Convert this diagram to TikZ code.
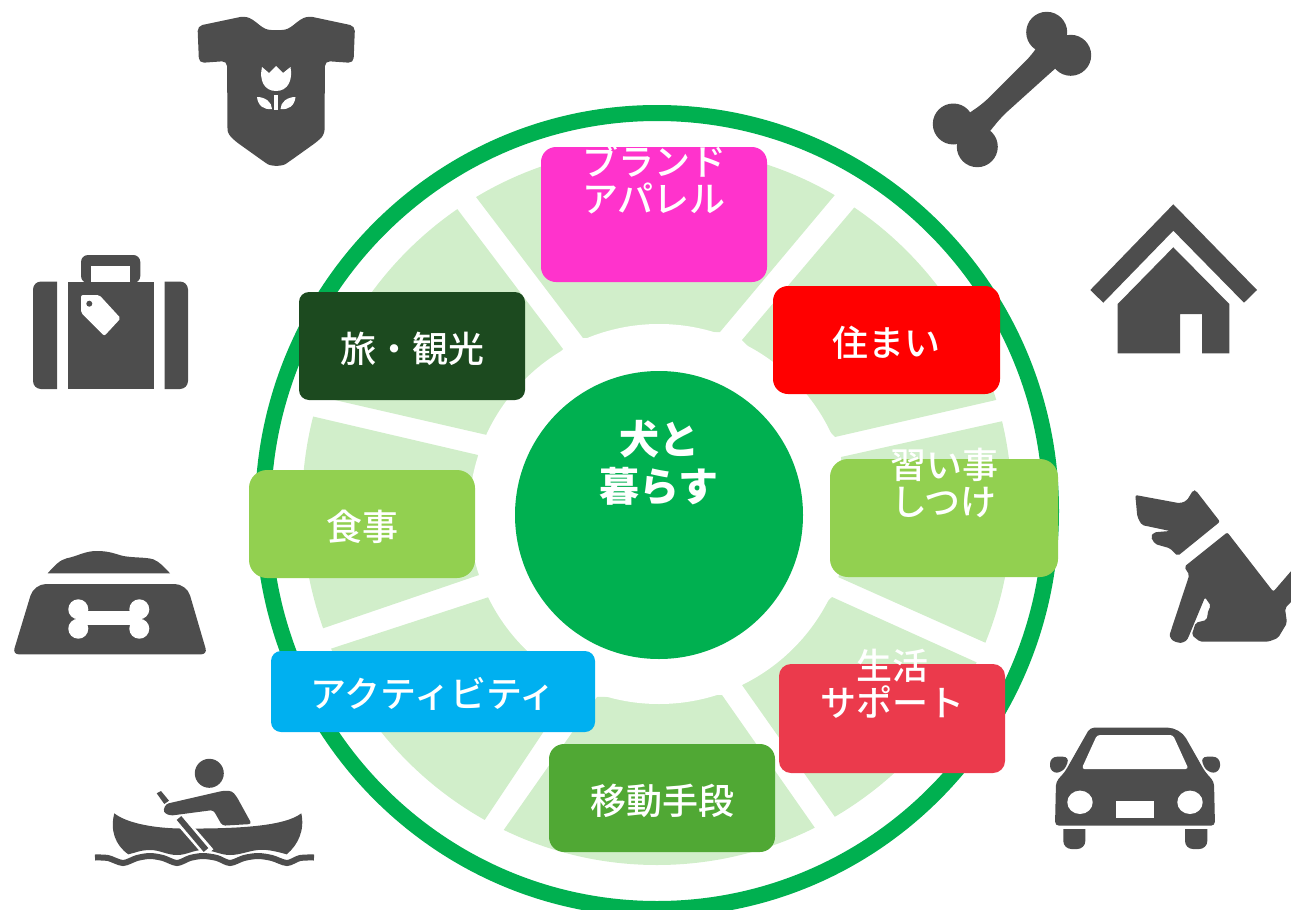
\documentclass[tikz,border=0pt]{standalone}
\usepackage{fontspec}
\usetikzlibrary{calc}
\setmainfont{Noto Sans CJK JP}
\newfontfamily\labelfont{Noto Sans CJK JP Medium}
\definecolor{ringgreen}{HTML}{00B050}
\definecolor{seggreen}{HTML}{D1EECA}
\definecolor{icongray}{HTML}{4D4D4D}
\definecolor{limegreen}{HTML}{92D050}
\begin{document}
\begin{tikzpicture} [x=1pt,y=-1pt,
 icon/.style={fill=icongray},
 hole/.style={fill=white},
 catbox/.style={rounded corners=#1,minimum width=226,minimum height=108,inner sep=0,align=center,text=white,text height=35,text depth=3,font=\labelfont\fontsize{36}{37}\selectfont}]
\useasboundingbox (0,0) rectangle (1291,910);
\draw[ringgreen, line width=16] (657,511) circle [x radius=394,y radius=398];
\begin{scope}
 \clip (657,506) circle [x radius=355,y radius=359];
 \foreach \ax/\ay/\bx/\by/\cx/\cy/\dx/\dy in {583/338/476/197/834/196/720/332,
   742/340/853/209/996/400/835/437, 841/457/1003/421/986/643/838/577,
   832/597/978/663/835/817/742/685, 722/695/815/828/503/831/597/697,
   574/686/484/821/333/648/489/597, 479/575/321/629/311/416/478/455,
   487/435/326/398/458/210/563/349} {
  \fill[seggreen] (\ax,\ay)--($(\ax,\ay)!1.3!(\bx,\by)$)--($(\dx,\dy)!1.3!(\cx,\cy)$)--(\dx,\dy)--cycle;
 }
\end{scope}
\fill[white] (659,514) circle (190);
\node[circle,fill=ringgreen,minimum size=288,inner sep=0,align=center,text=white,text height=31,text depth=58,font=\fontsize{40}{47}\selectfont\bfseries] (center) at (659,515) {犬と\\暮らす};
\node[catbox=15,fill={rgb,255:red,255;green,51;blue,204},minimum height=135,text depth=40] (brand) at (654,214.5) {ブランド\\アパレル};
\node[catbox=15,fill=red,minimum width=227] (home) at (886.5,340) {住まい};
\node[catbox=18,fill=limegreen,minimum width=228,minimum height=118,text depth=40] (school) at (944,518) {習い事\\しつけ};
\node[catbox=12,fill={rgb,255:red,235;green,58;blue,76},minimum height=109,text depth=40] (life) at (892,718.5) {生活\\サポート};
\node[catbox=15,fill={rgb,255:red,80;green,168;blue,52}] (move) at (662,798) {移動手段};
\node[catbox=10,fill={rgb,255:red,0;green,176;blue,240},minimum width=324,minimum height=81] (play) at (433,691.5) {アクティビティ};
\node[catbox=18,fill=limegreen] (food) at (362,524) {食事};
\node[catbox=10,fill={rgb,255:red,28;green,74;blue,31}] (trip) at (412,346) {旅・観光};
\fill[icon,rounded corners=5] (245,16)..controls (258,22) and (262,30)..(276.5,30)..controls (291,30) and (295,22)..(308,16)
 --(355,26)--(353.5,63)--(325,61)--(324.5,125)..controls (324.5,133) and (322,137)..(318,141)--(290,161)..controls (282,166.5) and (271,166.5)..(263,161)
 --(235,141)..controls (231,137) and (227.5,133)..(227.5,125)--(227,61)--(199,63)--(197.5,26)--cycle;
\fill[hole] (262,67)--(269,73)--(276,66)--(283,73)--(290.5,67)..controls (293,80) and (288,91)..(276,91)..controls (264,91) and (259,80)..(262,67)--cycle;
\fill[hole] (274,94.5) rectangle (278,110);
\fill[hole] (257,97)..controls (265,97) and (272,102)..(272,109)..controls (264,110) and (258,106)..(257,97)--cycle;
\fill[hole] (295.5,97)..controls (287.5,97) and (280.5,102)..(280.5,109)..controls (288.5,110) and (294.5,106)..(295.5,97)--cycle;
\fill[icon] (57,281.5) [rounded corners=8]--(33,281.5)--(33,389) [sharp corners]--(57,389)--cycle;
\fill[icon] (67.7,281.5) rectangle (153.7,389);
\fill[icon] (164.7,281.5) [rounded corners=8]--(188,281.5)--(188,389) [sharp corners]--(164.7,389)--cycle;
\fill[icon,rounded corners=7] (81,283)--(81,255)--(140.3,255)--(140.3,283)--cycle;
\fill[hole] (91,265.7) rectangle (130,281.5);
\fill[hole,rounded corners=2] (81,295)--(99.3,295)--(120.7,318.3)--(104.3,336)--(81,312.7)--cycle;
\fill[icon] (89.3,303.7) circle (3);
\fill[icon] (1046.7,32.3) circle (20.5);
\fill[icon] (1070.7,55.3) circle (20.5);
\fill[icon] (953.3,124) circle (20.5);
\fill[icon] (977.3,146.7) circle (20.5);
\fill[icon,rounded corners=8] (1046.7,32.3)--(1070.7,55.3)--(1054.3,69.3)--(1001.7,116.7)--(977.3,146.7)--(953.3,124)--(983.3,103.3)--(1031.7,55)--cycle;
\fill[icon] (1173.3,204.3)--(1257,290)--(1244,302.7)--(1173.3,230.7)--(1103.3,302.7)--(1090.3,290)--cycle;
\fill[icon] (1173.3,247.3)--(1229.3,304)--(1229.3,353.3)--(1202,353.3)--(1202,314)--(1180,314)--(1180,353.3)--(1117.7,353.3)--(1117.7,304)--cycle;
\fill[icon] (47.7,573.3)..controls (55,565) and (60,560)..(66.7,558.3)..controls (78,556) and (85,551)..(96.7,551)..controls (110,551) and (115,554)..(123.3,556)..controls (135,558) and (145,557)..(153.3,559.3)..controls (160,562) and (165,568)..(170,573.3)--cycle;
\fill[icon,rounded corners=12] (34,584)--(186.7,584) [rounded corners=6]--(207.3,654.3)--(12.7,654.3) [rounded corners=12]--cycle;
\fill[hole] (78.3,609.3) circle (10);
\fill[hole] (78.3,628.7) circle (10);
\fill[hole] (139.3,609.3) circle (10);
\fill[hole] (139.3,628.7) circle (10);
\fill[hole] (78,611) rectangle (139,625);
\fill[icon] (209.3,773.3) circle (14.5);
\fill[icon,rounded corners=3] (165.7,804)--(223.3,790.7)--(232,791)--(236.7,796.7)--(251.7,824)--(222.3,825.7)--(213.3,810)--(170,815.7)--(163,812)--cycle;
\fill[icon] (156.7,793.3)--(161,791)--(169,800.7)--(164.3,804)--cycle;
\fill[icon] (114.3,813.3)..controls (125,822) and (150,828)..(180,828.5)..controls (240,829) and (285,826)..(301.3,813.3)
 ..controls (305,830) and (298,845)..(286.7,854.3)..controls (275,851) and (265,849)..(258,850)..controls (248,851) and (240,855)..(230,855)
 ..controls (220,855) and (213,850)..(203,850)..controls (193,850) and (187,855)..(177,855)..controls (167,855) and (160,850)..(150,850)
 ..controls (140,850) and (135,853)..(128.3,854.3)..controls (115,845) and (110,830)..(114.3,813.3)--cycle;
\draw[white,line width=11.5] (183,823)--(209,853);
\draw[icongray,line width=6] (179,818)--(206,850);
\draw[icongray,line width=6] plot[smooth] coordinates {(95,857.5) (108,858) (123,863) (137,858) (150,856) (163,858) (177,863) (190,858) (203,856) (217,858) (230,863) (244,858) (258,856) (272,858) (287,863) (300,858) (314,857.5)};
\fill[icon,rounded corners=2] (1135.3,495)--(1180,503.3)--(1186.7,500.7)--(1193.3,490)--(1196,490.7)--(1220,521.7)--(1177.7,556)--(1170,548.3)--(1155,544)--(1150.7,536.7)--(1154,532.3)--(1170,531)--(1141.7,525)--(1137.3,516.7)--cycle;
\fill[icon,rounded corners=2] (1227.3,532.3)--(1273.3,591.7)--(1292,570)--(1292,601)--(1285,608.3)--(1287,623)--(1278,638)--(1268.3,641.7)--(1200,641.7)--(1191.7,635)--(1195.7,622.7)--(1206.7,620)--(1208.3,610)--(1211,606)--(1205,597.3)--(1188.5,637)..controls (1186,642) and (1181,643)..(1178,642.5)..controls (1172,641) and (1169,637)..(1170.5,632)--(1189.3,575)--(1184.3,566.7)--cycle;
\fill[icon,rounded corners=12] (1090,727.7)--(1180,727.7) [rounded corners=4]--(1205,771.7)--(1214,781.7)--(1215,825.7)--(1055,825.7)--(1056,781.7)--(1065,771.7)--cycle;
\fill[hole,rounded corners=3] (1097,735)--(1173,735)--(1188.5,769)--(1081.5,769)--cycle;
\fill[hole] (1080,802.3) circle [x radius=12.7,y radius=11.7];
\fill[hole] (1190,802.3) circle [x radius=12.7,y radius=11.7];
\fill[hole] (1116,801) rectangle (1154,818.3);
\fill[icon] (1063.3,829)--(1063.3,840) [rounded corners=8]--(1063.3,849)--(1085.3,849) [sharp corners]--(1085.3,829)--cycle;
\fill[icon] (1185,829)--(1185,840) [rounded corners=8]--(1185,849)--(1207.3,849) [sharp corners]--(1207.3,829)--cycle;
\fill[icon,rounded corners=7] (1070,756.7)--(1050,756.7)--(1050,772.7)--(1063.3,772.7)--cycle;
\fill[icon,rounded corners=7] (1200,756.7)--(1220,756.7)--(1220,772.7)--(1206.7,772.7)--cycle;
\end{tikzpicture}
\end{document}
